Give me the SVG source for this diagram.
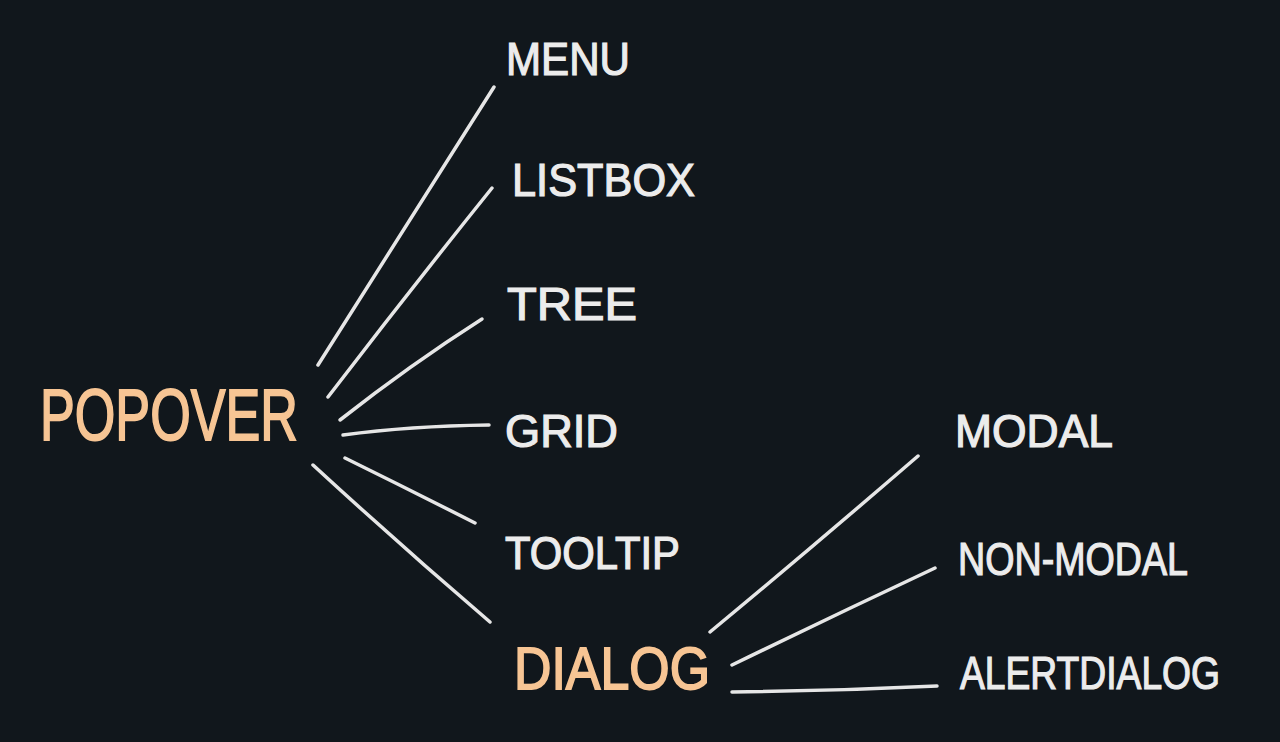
<svg xmlns="http://www.w3.org/2000/svg" width="1280" height="742" viewBox="0 0 1280 742">
<style>
.bg{fill:#11171c}
.w{fill:#ececec;stroke:#ececec;stroke-width:1.2;font-family:"Liberation Sans",Arial,sans-serif;font-size:46px;}
.o{fill:#f7c594;stroke:#f7c594;stroke-width:1.8;font-family:"Liberation Sans",Arial,sans-serif;}
.c path{fill:none;stroke:#e6e6e6;stroke-width:3.5;stroke-linecap:round}
</style>
<rect class="bg" width="1280" height="742"/>
<g class="c" id="connectors">
<path d="M318,365 Q410,220 494,87"/>
<path d="M328,397 Q410,290 492,188"/>
<path d="M340,420 Q410,365 482,319"/>
<path d="M343,435 Q410,426 489,425"/>
<path d="M345,458 Q410,490 475,523"/>
<path d="M313,465 Q400,545 490,622"/>
<path d="M710,632 Q815,545 918,456"/>
<path d="M732,665 Q835,615 935,568"/>
<path d="M732,692 Q835,691 937,686"/>
</g>
<g id="popover"><text class="o" x="40" y="440" font-size="72" textLength="258" lengthAdjust="spacingAndGlyphs">POPOVER</text></g>
<g id="menu"><text class="w" x="506" y="75" textLength="124" lengthAdjust="spacingAndGlyphs">MENU</text></g>
<g id="listbox"><text class="w" x="512" y="196" textLength="183" lengthAdjust="spacingAndGlyphs">LISTBOX</text></g>
<g id="tree"><text class="w" x="507" y="320" textLength="130" lengthAdjust="spacingAndGlyphs">TREE</text></g>
<g id="grid"><text class="w" x="505" y="447" textLength="113" lengthAdjust="spacingAndGlyphs">GRID</text></g>
<g id="tooltip"><text class="w" x="505" y="569" textLength="175" lengthAdjust="spacingAndGlyphs">TOOLTIP</text></g>
<g id="dialog"><text class="o" x="514" y="689" font-size="60" textLength="196" lengthAdjust="spacingAndGlyphs">DIALOG</text></g>
<g id="modal"><text class="w" x="955" y="447" textLength="158" lengthAdjust="spacingAndGlyphs">MODAL</text></g>
<g id="non-modal"><text class="w" x="958" y="575" textLength="230" lengthAdjust="spacingAndGlyphs">NON-MODAL</text></g>
<g id="alertdialog"><text class="w" x="960" y="689" textLength="260" lengthAdjust="spacingAndGlyphs">ALERTDIALOG</text></g>
</svg>
